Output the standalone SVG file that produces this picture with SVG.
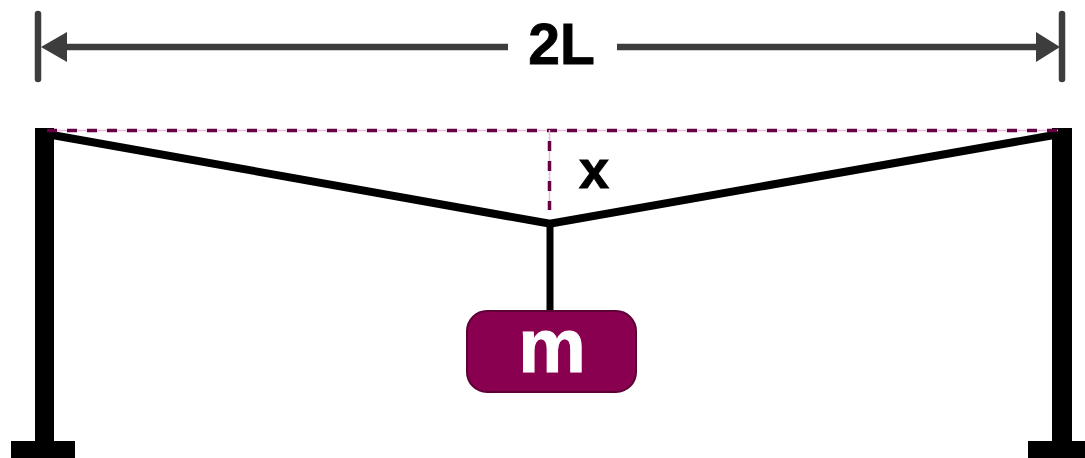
<svg xmlns="http://www.w3.org/2000/svg" width="1085" height="458" viewBox="0 0 1085 458">
<style>
text{font-family:"Liberation Sans",Arial,sans-serif;font-weight:700;text-anchor:middle}
.dim{stroke:#3d3d3d;stroke-width:6.500;fill:none}
.tick{stroke:#3d3d3d;stroke-width:6.500;stroke-linecap:round;fill:none}
.arrow{fill:#3d3d3d}
.halo{stroke:#e8bcd6;stroke-width:1.500;fill:none}
.dash{stroke:#660044;stroke-width:3.500;stroke-dasharray:10 10;fill:none}
.rope{stroke:#000;stroke-width:8;fill:none}
.post{fill:#000}
</style>
<rect width="1085" height="458" fill="#fff"/>
<g id="connectors">
<path class="tick" d="M38 14V79"/>
<path class="tick" d="M1062 14V79"/>
<path class="dim" d="M508 47H67"/>
<path class="dim" d="M617 47H1036"/>
<path class="arrow" d="M67 32L41 47L67 62Z"/>
<path class="arrow" d="M1036 32L1060 47L1036 62Z"/>
<path class="rope" d="M45 133.700L550 223.700L1060 134"/>
<path d="M550 224V312" stroke="#000" stroke-width="7" fill="none"/>
</g>
<g id="left-post">
<rect class="post" x="35" y="128" width="19" height="320"/>
<rect class="post" x="11" y="441" width="64" height="17"/>
</g>
<g id="right-post">
<rect class="post" x="1052" y="128" width="20" height="320"/>
<rect class="post" x="1028" y="441" width="57" height="17"/>
</g>
<g id="guides">
<path class="halo" d="M47 130.500H1058"/>
<path class="dash" d="M47 130.500H1058"/>
<path class="halo" d="M549.500 130V210"/>
<path class="dash" d="M549.500 141V210"/>
</g>
<g id="mass">
<rect x="467" y="311" width="169" height="81" rx="20" ry="20" fill="#8a0050" stroke="#5c0036" stroke-width="2"/>
<text x="552" y="372" font-size="76" fill="#fff" stroke="#fff" stroke-width="1">m</text>
</g>
<g id="label-2L"><text x="561.500" y="64" font-size="57" fill="#000" stroke="#000" stroke-width="0.800">2L</text></g>
<g id="label-x"><text x="594" y="187.500" font-size="54" fill="#000" stroke="#000" stroke-width="1">x</text></g>
</svg>
